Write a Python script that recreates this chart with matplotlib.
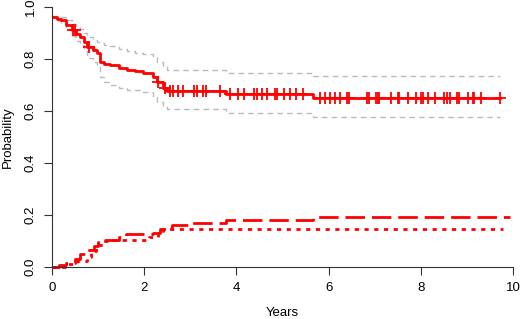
import numpy as np
import matplotlib
matplotlib.use('Agg')
import matplotlib.pyplot as plt

plt.rcParams['font.family'] = ['Liberation Sans', 'DejaVu Sans']

# survival curve (step, post) with confidence bounds
surv_t = [0, 0.1, 0.2, 0.3, 0.43, 0.52, 0.61, 0.7, 0.76, 0.88, 0.98, 1.04, 1.12, 1.25, 1.45, 1.62, 1.8, 1.97, 2.19, 2.28, 2.41, 2.5, 3.77, 5.66, 9.72]
surv_s = [0.962, 0.955, 0.95, 0.93, 0.91, 0.895, 0.885, 0.865, 0.846, 0.835, 0.823, 0.79, 0.782, 0.777, 0.765, 0.758, 0.752, 0.746, 0.73, 0.71, 0.69, 0.677, 0.665, 0.65, 0.65]
upper = [0.965, 0.962, 0.96, 0.95, 0.935, 0.925, 0.915, 0.9, 0.885, 0.875, 0.865, 0.86, 0.855, 0.85, 0.84, 0.832, 0.825, 0.82, 0.81, 0.79, 0.775, 0.758, 0.746, 0.733, 0.733]
lower = [0.962, 0.945, 0.935, 0.915, 0.89, 0.87, 0.855, 0.83, 0.805, 0.79, 0.77, 0.73, 0.71, 0.7, 0.69, 0.682, 0.68, 0.675, 0.655, 0.635, 0.62, 0.608, 0.593, 0.577, 0.577]
censor_t = [0.45, 0.5, 0.8, 2.3, 2.45, 2.55, 2.63, 2.74, 2.85, 3.07, 3.14, 3.28, 3.34, 3.64, 3.86,
            4.04, 4.16, 4.37, 4.45, 4.55, 4.66, 4.84, 4.87, 5.02, 5.16, 5.29, 5.45, 5.81, 5.92,
            6.03, 6.14, 6.25, 6.39, 6.43, 6.83, 6.88, 7.03, 7.07, 7.10, 7.35, 7.51, 7.53, 7.71,
            7.90, 8.01, 8.04, 8.16, 8.31, 8.50, 8.56, 8.63, 8.79, 8.83, 9.02, 9.12, 9.16, 9.30, 9.72]

# cumulative incidence curves
cif1_t = [0, 0.15, 0.3, 0.5, 0.6, 0.75, 0.9, 1.0, 1.1, 1.45, 1.6, 2.2, 2.35, 2.5, 2.6, 3.0, 3.77, 5.66, 9.93]
cif1_v = [0, 0.008, 0.015, 0.03, 0.05, 0.065, 0.08, 0.095, 0.104, 0.117, 0.128, 0.13, 0.148, 0.155, 0.162, 0.17, 0.181, 0.194, 0.194]
cif2_t = [0, 0.35, 0.55, 0.75, 0.85, 0.95, 1.1, 1.3, 2.1, 2.3, 2.4, 9.78]
cif2_v = [0, 0.01, 0.025, 0.04, 0.06, 0.085, 0.1, 0.104, 0.115, 0.13, 0.145, 0.145]

fig = plt.figure(figsize=(5.2, 3.19), dpi=100)
ax = fig.add_axes([0.1, 0.163, 0.887, 0.815])

ax.step(surv_t, upper, where='post', color='#bbbbbb', lw=1, linestyle=(0, (4, 3)))
ax.step(surv_t, lower, where='post', color='#bbbbbb', lw=1, linestyle=(0, (4, 3)))
ax.step(surv_t, surv_s, where='post', color='red', lw=2)
# censor marks sit on the survival step
cs = [surv_s[np.searchsorted(surv_t, t, side='right') - 1] for t in censor_t]
ax.plot(censor_t, cs, '+', color='red', ms=9, mew=1.3)

ax.step(cif1_t, cif1_v, where='post', color='red', lw=2, linestyle=(0, (7, 2.5)), clip_on=False)
ax.step(cif2_t, cif2_v, where='post', color='red', lw=2, linestyle=(0, (1.5, 2)), clip_on=False)

ax.set_xlim(0, 10)
ax.set_ylim(0, 1)
ax.set_xticks([0, 2, 4, 6, 8, 10])
ax.set_yticks([0, 0.2, 0.4, 0.6, 0.8, 1.0])
ax.set_yticklabels(['0.0', '0.2', '0.4', '0.6', '0.8', '1.0'], rotation=90, va='center')
for s in ['top', 'right']:
    ax.spines[s].set_visible(False)
for s in ['left', 'bottom']:
    ax.spines[s].set_color('#333333')
ax.tick_params(direction='out', length=6, color='#333333', labelsize=9.5, pad=5)
ax.set_xlabel('Years', fontsize=9.5, labelpad=9)
ax.set_ylabel('Probability', fontsize=9.5, labelpad=8)

fig.savefig('out.png', dpi=100)
